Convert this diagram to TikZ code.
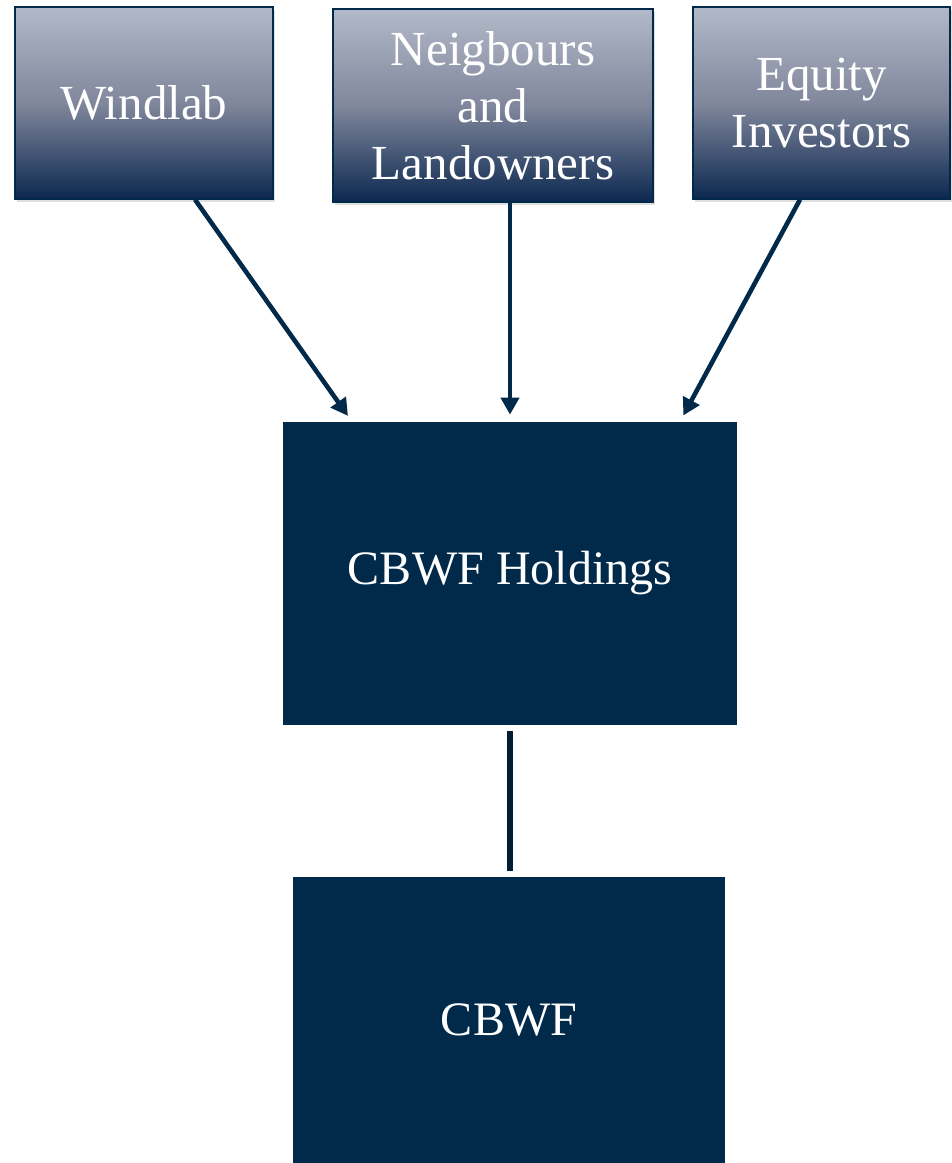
\documentclass[tikz,border=0pt]{standalone}
\usepackage{fontspec}
\setmainfont{Liberation Serif}
\usetikzlibrary{arrows.meta,shadows}

\definecolor{navy}{RGB}{1,42,74}
\definecolor{darknavy}{RGB}{2,30,52}
\definecolor{gradtop}{RGB}{178,185,200}
\definecolor{gradmid}{RGB}{128,135,156}
\definecolor{gradbot}{RGB}{12,40,80}

\tikzset{
  party/.style={draw=navy, line width=0.6pt, top color=gradtop, bottom color=gradbot,
    middle color=gradmid, text=white, align=center, inner sep=0pt,
    font=\fontsize{24.5}{28.5}\selectfont,
    drop shadow={opacity=0.25, shadow xshift=1pt, shadow yshift=-1.5pt}},
  company/.style={fill=navy, text=white, inner sep=0pt, font=\fontsize{24}{28.5}\selectfont},
  flow/.style={-{Triangle[length=8.5pt,width=9pt]}, navy, line width=2.3pt, shorten >=3.5pt},
  link/.style={darknavy, line width=2.6pt, shorten <=3pt, shorten >=3pt}
}

\begin{document}
\begin{tikzpicture}[x=0.5pt,y=-0.5pt]
\useasboundingbox (0,0) rectangle (952,1163);
% owners
\node[party, minimum width=129pt, minimum height=96pt] (wind) at (144,103) {Windlab};
\node[party, minimum width=160pt, minimum height=96.5pt] (neigh) at (493,105.5) {Neigbours\\and\\Landowners};
\node[party, minimum width=128.5pt, minimum height=96pt] (equity) at (821.5,103) {Equity\\Investors};
% companies
\node[company, minimum width=227pt, minimum height=151.5pt] (hold) at (510,573.5) {CBWF Holdings};
\node[company, minimum width=216pt, minimum height=143pt] (cbwf) at (509,1020) {CBWF};
% connectors
\draw[flow] ([xshift=25.5pt]wind.south) -- ([xshift=-79pt]hold.north);
\draw[flow] ([xshift=8.5pt]neigh.south) -- (hold.north);
\draw[flow] ([xshift=-10.75pt]equity.south) -- ([xshift=85pt]hold.north);
\draw[link] (hold.south) -- (hold.south |- cbwf.north);
\end{tikzpicture}
\end{document}
